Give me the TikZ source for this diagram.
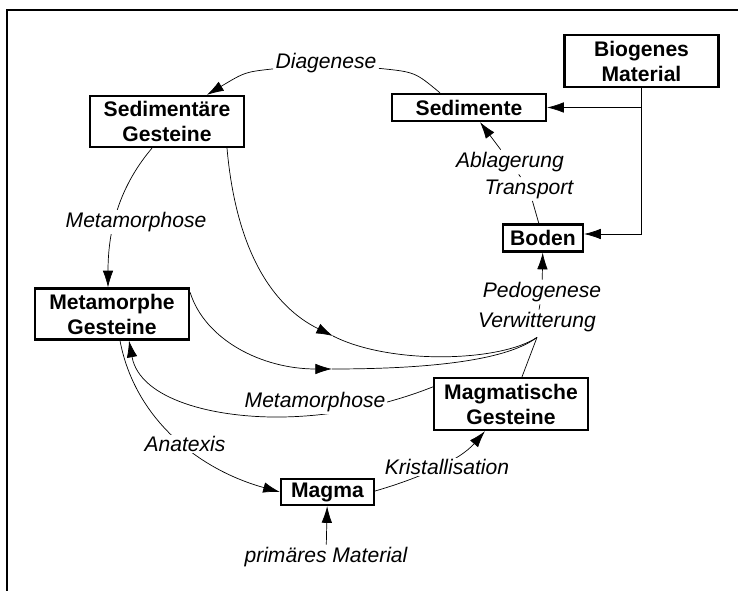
\documentclass[tikz,border=0pt]{standalone}
\usepackage{fontspec}
\setmainfont{Liberation Sans}
\usetikzlibrary{arrows.meta,calc,backgrounds}
\tikzset{
	rock/.style={draw, line width=1.3pt, fill=white, font=\bfseries\fontsize{12}{14.2}\selectfont, align=center, inner sep=1pt, minimum width=3.08cm},
	proc/.style={fill=white, font=\itshape\fontsize{12}{14}\selectfont, inner sep=1pt},
	arr/.style={-{Latex[length=9.5pt,width=6pt]}}
}
\begin{document}
\begin{tikzpicture}[x=0.02cm, y=-0.02cm, line width=0.9pt]
		\useasboundingbox (0,0) rectangle (738,591);
		\draw[line width=0.9pt] (7,591)--(7,10)--(738,10);
		\node[rock, minimum height=1.04cm] (biogen) at (641.5,61) {Biogenes\\Material};
		\node[rock, minimum height=0.54cm] (sedimente) at (469,107.5) {Sedimente};
		\node[rock, minimum height=1.02cm] (sedgest) at (167,121.5) {Sedimentäre\\Gesteine};
		\node[rock, minimum width=1.6cm, minimum height=0.54cm] (boden) at (543,238) {Boden};
		\node[rock, minimum height=1.02cm] (metgest) at (112,314) {Metamorphe\\Gesteine};
		\node[rock, minimum height=1.04cm] (maggest) at (511,404) {Magmatische\\Gesteine};
		\node[rock, minimum width=1.86cm, minimum height=0.52cm] (magma) at (327.5,492) {Magma};
		\node[proc] (diag) at (326,63) {Diagenese};
		\node[proc] (ablag) at (510,162) {Ablagerung};
		\node[proc] (transp) at (529,189) {Transport};
		\node[proc] (pedo) at (542,292) {Pedogenese};
		\node[proc] (verw) at (537,322) {Verwitterung};
		\node[proc] (meta1) at (136,222) {Metamorphose};
		\node[proc] (meta2) at (315,402) {Metamorphose};
		\node[proc] (anat) at (185,444) {Anatexis};
		\node[proc] (krist) at (447,467) {Kristallisation};
		\node[proc] (prim) at (326,557) {primäres Material};
		\coordinate (vw) at ($(verw.south)+(0,3)$);
		\coordinate (m1) at (333,336);
		\coordinate (m2) at (332,369);
		\coordinate (mt) at (282,417);
		\begin{scope}[on background layer]
		\draw[arr] (biogen.south) |- ($(boden.east)+(0,-4)$);
		\draw[arr] (biogen.south |- sedimente.east)--(sedimente.east);
		\draw[arr] (boden)--(transp)--(ablag)--(sedimente);
		\draw[arr] (verw)--(pedo)--(boden);
		\draw ($(sedimente.north)+(-29,0)$) .. controls (415,72) .. (diag);
		\draw[arr] (diag) .. controls (245,72) .. ($(sedgest.north)+(40,0)$);
		\draw[arr] ($(sedgest.south)+(-15,0)$) .. controls (125,180) and (108,220) .. ($(metgest.north)+(-4,0)$);
		\draw[arr] ($(sedgest.south)+(60,0)$) .. controls (236,250) and (272,306) .. (m1);
		\draw (m1) .. controls (390,365) and (500,362) .. (vw);
		\draw[arr] ($(metgest.north east)+(0,5)$) .. controls (205,340) and (262,369) .. (m2);
		\draw (m2) .. controls (420,369) and (505,362) .. (vw);
		\draw (vw)--($(maggest.north)+(11,0)$);
		\draw[arr] ($(maggest.north west)+(0,10)$) .. controls (405,398) and (350,416) .. (mt) .. controls (215,418) and (140,400) .. ($(metgest.south)+(17,0)$);
		\draw[arr] ($(metgest.south)+(8,0)$) .. controls (135,420) and (200,470) .. (magma.west);
		\draw[arr] ($(magma.east)+(0,-1)$) .. controls (420,478) and (460,460) .. ($(maggest.south)+(-26,0)$);
		\draw[arr] (prim)--(magma);
		\end{scope}
	\end{tikzpicture}
\end{document}
